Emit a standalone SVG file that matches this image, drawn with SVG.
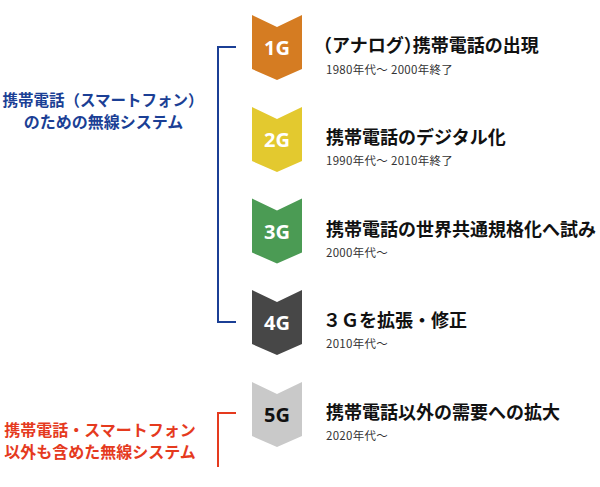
<svg xmlns="http://www.w3.org/2000/svg" width="600" height="487" viewBox="0 0 600 487">
<style>
.lbl{font-family:"Open Sans","Noto Sans",sans-serif;font-weight:bold;font-size:20px;text-anchor:middle;fill:#fff}
.ttl{font-family:"Noto Sans CJK JP",sans-serif;font-weight:bold;font-size:18px;fill:#111}
.sub{font-family:"Noto Sans CJK JP",sans-serif;font-size:11.5px;letter-spacing:0.3px;fill:#333}
.side{font-family:"Noto Sans CJK JP",sans-serif;font-weight:bold;text-anchor:middle}
.half{font-feature-settings:"halt"}
.br{fill:none;stroke-width:2}
</style>
<defs>
<path id="chev" d="M0,0 L25,12 L50,0 L50,54 L25,65 L0,54 Z"/>
</defs>
<g id="connectors">
<path class="br" stroke="#1b3f95" d="M236,47 H218 V322 H236"/>
<path class="br" stroke="#e53a1e" d="M236,413 H218 V467"/>
</g>
<g id="label-blue">
<text class="side" fill="#1b3f95" x="103" y="106" font-size="15.5">携帯電話（スマートフォン）</text>
<text class="side" fill="#1b3f95" x="103.5" y="128" font-size="16">のための無線システム</text>
</g>
<g id="label-red">
<text class="side" fill="#e53a1e" x="100" y="436" font-size="16">携帯電話・スマートフォン</text>
<text class="side" fill="#e53a1e" x="100" y="458" font-size="16">以外も含めた無線システム</text>
</g>
<g id="g1">
<use href="#chev" x="252" y="15" fill="#d57c22"/>
<text class="lbl" x="277" y="55">1G</text>
<text class="ttl" x="323" y="52"><tspan class="half">（</tspan>アナログ<tspan class="half">）</tspan>携帯電話の出現</text>
<text class="sub" x="326" y="74">1980年代～ 2000年終了</text>
</g>
<g id="g2">
<use href="#chev" x="252" y="107" fill="#e3c92f"/>
<text class="lbl" x="277" y="147">2G</text>
<text class="ttl" x="326" y="144">携帯電話のデジタル化</text>
<text class="sub" x="326" y="165">1990年代～ 2010年終了</text>
</g>
<g id="g3">
<use href="#chev" x="252" y="198.5" fill="#4b9b54"/>
<text class="lbl" x="277" y="238.5">3G</text>
<text class="ttl" x="326" y="235.5">携帯電話の世界共通規格化へ試み</text>
<text class="sub" x="326" y="257">2000年代～</text>
</g>
<g id="g4">
<use href="#chev" x="252" y="290" fill="#474747"/>
<text class="lbl" x="277" y="330">4G</text>
<text class="ttl" x="323" y="327">３Ｇを拡張・修正</text>
<text class="sub" x="326" y="348">2010年代～</text>
</g>
<g id="g5">
<use href="#chev" x="252" y="382" fill="#c9c9c9"/>
<text class="lbl" x="277" y="422" style="fill:#111">5G</text>
<text class="ttl" x="326" y="419">携帯電話以外の需要への拡大</text>
<text class="sub" x="326" y="440">2020年代～</text>
</g>
</svg>
